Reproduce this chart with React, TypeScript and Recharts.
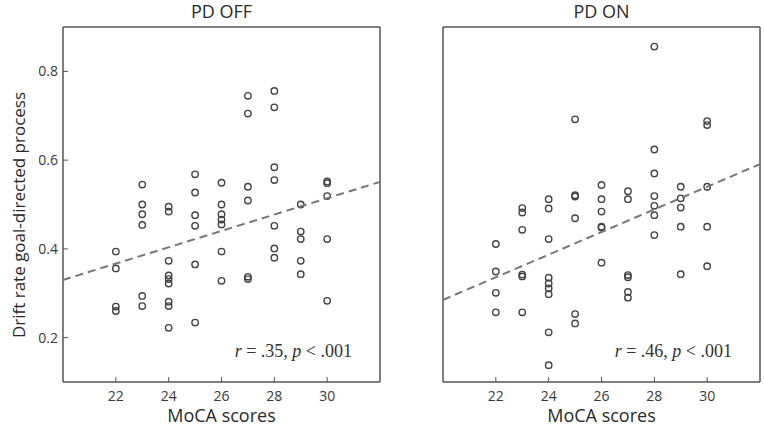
import { ScatterChart, Scatter, XAxis, YAxis } from "recharts";

// Drift rate vs MoCA score, PD patients OFF and ON medication.
// Each panel is its own ScatterChart; the frame is built from four axes
// (bottom/left carry labels, top/right only the inward ticks).

const MOCA_TICKS = [22, 24, 26, 28, 30];
const DRIFT_TICKS = [0.2, 0.4, 0.6, 0.8];

// PD OFF
const offMoca = [
  22, 22, 22, 22,
  23, 23, 23, 23, 23, 23,
  24, 24, 24, 24, 24, 24, 24, 24, 24,
  25, 25, 25, 25, 25, 25,
  26, 26, 26, 26, 26, 26, 26,
  27, 27, 27, 27, 27, 27,
  28, 28, 28, 28, 28, 28, 28,
  29, 29, 29, 29, 29,
  30, 30, 30, 30, 30,
];
const offDrift = [
  0.394, 0.356, 0.27, 0.26,
  0.545, 0.5, 0.478, 0.454, 0.294, 0.271,
  0.495, 0.484, 0.373, 0.34, 0.332, 0.322, 0.281, 0.271, 0.222,
  0.568, 0.527, 0.476, 0.452, 0.365, 0.234,
  0.549, 0.5, 0.478, 0.466, 0.455, 0.394, 0.328,
  0.745, 0.705, 0.54, 0.509, 0.337, 0.332,
  0.756, 0.719, 0.584, 0.555, 0.452, 0.401, 0.38,
  0.5, 0.439, 0.422, 0.373, 0.343,
  0.552, 0.548, 0.519, 0.422, 0.283,
];
const offTrendMoca = [20, 32];
const offTrendDrift = [0.33, 0.551];

// PD ON
const onMoca = [
  22, 22, 22, 22,
  23, 23, 23, 23, 23, 23,
  24, 24, 24, 24, 24, 24, 24, 24, 24,
  25, 25, 25, 25, 25, 25,
  26, 26, 26, 26, 26, 26,
  27, 27, 27, 27, 27, 27,
  28, 28, 28, 28, 28, 28, 28,
  29, 29, 29, 29, 29,
  30, 30, 30, 30, 30,
];
const onDrift = [
  0.411, 0.349, 0.301, 0.257,
  0.492, 0.482, 0.443, 0.342, 0.338, 0.257,
  0.512, 0.491, 0.422, 0.335, 0.322, 0.311, 0.298, 0.212, 0.138,
  0.692, 0.521, 0.518, 0.469, 0.253, 0.232,
  0.544, 0.512, 0.484, 0.45, 0.448, 0.369,
  0.53, 0.512, 0.341, 0.336, 0.303, 0.29,
  0.856, 0.624, 0.57, 0.519, 0.497, 0.476, 0.431,
  0.54, 0.514, 0.493, 0.45, 0.343,
  0.688, 0.679, 0.54, 0.45, 0.361,
];
const onTrendMoca = [20, 32];
const onTrendDrift = [0.285, 0.591];

const SANS = "'Open Sans', 'DejaVu Sans', sans-serif";
const FRAME = "#555";

const zip = (xs: number[], ys: number[]) => xs.map((x, i) => ({ x, y: ys[i] }));

const Ring = (p: any) => (
  <circle cx={p.cx} cy={p.cy} r={3.2} fill="none" stroke="#444" strokeWidth={1.4} />
);
const NoDot = () => <g />;

type PanelProps = {
  left: number;
  width: number;
  marginRight: number;
  title: string;
  points: { x: number; y: number }[];
  trend: { x: number; y: number }[];
  r: string;
  showYLabels: boolean;
};

function Panel({ left, width, marginRight, title, points, trend, r, showYLabels }: PanelProps) {
  const plotLeft = left + 63;
  const plotRight = left + width - marginRight;
  const mid = (plotLeft + plotRight) / 2;
  const tickStyle = { fill: "#3a3a3a", fontSize: 14, fontFamily: SANS };
  // axes need a 1px band or recharts skips them
  return (
    <>
      <div
        style={{
          position: "absolute", left: mid - 100, top: -1, width: 200, textAlign: "center",
          fontFamily: SANS, fontSize: 18, color: "#2a2a2a", lineHeight: "24px",
        }}
      >
        {title}
      </div>
      <div style={{ position: "absolute", left, top: 0 }}>
        <ScatterChart
          width={width} height={428}
          margin={{ top: 26, right: marginRight - 1, bottom: 45, left: 62 }}
        >
          <XAxis
            xAxisId="b" dataKey="x" type="number" domain={[20, 32]} ticks={MOCA_TICKS} interval={0}
            height={1} tickSize={-5} tickMargin={14} tick={tickStyle}
            axisLine={{ stroke: FRAME, strokeWidth: 1.5 }} tickLine={{ stroke: FRAME }}
            allowDataOverflow
          />
          <XAxis
            xAxisId="t" orientation="top" dataKey="x" type="number" domain={[20, 32]} ticks={MOCA_TICKS}
            interval={0} height={1} tickSize={-5} tick={false}
            axisLine={{ stroke: FRAME, strokeWidth: 1.5 }} tickLine={{ stroke: FRAME }}
            allowDataOverflow
          />
          <YAxis
            yAxisId="l" dataKey="y" type="number" domain={[0.1, 0.9]} ticks={DRIFT_TICKS} interval={0}
            width={1} tickSize={-5} tickMargin={10}
            tick={showYLabels ? tickStyle : false}
            tickFormatter={(v: number) => v.toFixed(1)}
            axisLine={{ stroke: FRAME, strokeWidth: 1.5 }} tickLine={{ stroke: FRAME }}
            allowDataOverflow
          />
          <YAxis
            yAxisId="r" orientation="right" dataKey="y" type="number" domain={[0.1, 0.9]}
            ticks={DRIFT_TICKS} interval={0} width={1} tickSize={-5} tick={false}
            axisLine={{ stroke: FRAME, strokeWidth: 1.5 }} tickLine={{ stroke: FRAME }}
            allowDataOverflow
          />
          <Scatter xAxisId="b" yAxisId="l" data={points} shape={Ring} isAnimationActive={false} />
          <Scatter
            xAxisId="b" yAxisId="l" data={trend} shape={NoDot} isAnimationActive={false}
            line={{ stroke: "#777", strokeWidth: 2, strokeDasharray: "8 5" }} lineType="joint"
          />
          <Scatter xAxisId="t" yAxisId="r" data={trend} shape={NoDot} isAnimationActive={false} />
        </ScatterChart>
      </div>
      <div
        style={{
          position: "absolute", left: plotRight - 228, top: 340, width: 200, textAlign: "right",
          fontFamily: "'Liberation Serif', 'DejaVu Serif', serif", fontSize: 18, color: "#333",
          lineHeight: "22px", whiteSpace: "nowrap",
        }}
      >
        <i>r</i> = .{r}, <i>p</i> &lt; .001
      </div>
      <div
        style={{
          position: "absolute", left: mid - 100, top: 403, width: 200, textAlign: "center",
          fontFamily: SANS, fontSize: 18, color: "#2a2a2a", lineHeight: "24px",
        }}
      >
        MoCA scores
      </div>
    </>
  );
}

export default function App() {
  return (
    <div
      style={{
        position: "absolute", left: 0, top: 0, width: 764, height: 428,
        background: "#fff", overflow: "hidden",
      }}
    >
      <div
        style={{
          position: "absolute", left: -141, top: 204, width: 320, height: 22, lineHeight: "22px",
          textAlign: "center", transform: "rotate(-90deg)", fontFamily: SANS, fontSize: 17,
          color: "#2a2a2a", whiteSpace: "nowrap",
        }}
      >
        Drift rate goal-directed process
      </div>
      <Panel
        left={0} width={390} marginRight={10} title="PD OFF"
        points={zip(offMoca, offDrift)} trend={zip(offTrendMoca, offTrendDrift)}
        r="35" showYLabels
      />
      <Panel
        left={380} width={384} marginRight={4} title="PD ON"
        points={zip(onMoca, onDrift)} trend={zip(onTrendMoca, onTrendDrift)}
        r="46" showYLabels={false}
      />
    </div>
  );
}
